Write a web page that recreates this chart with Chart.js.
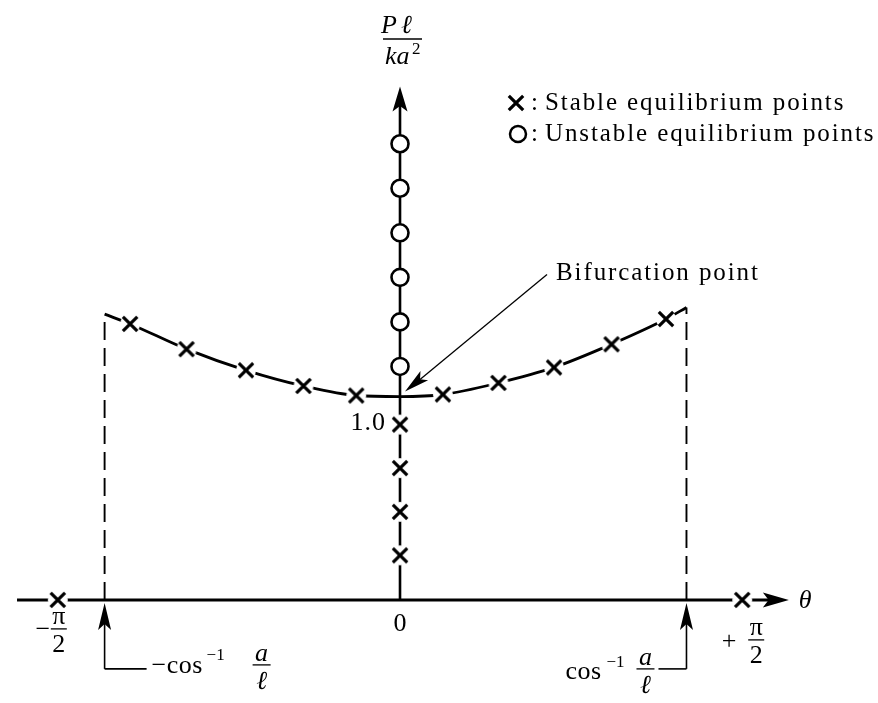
<!DOCTYPE html>
<html>
<head>
<meta charset="utf-8">
<script src="https://cdn.jsdelivr.net/npm/chart.js@4/dist/chart.umd.min.js"></script>
<style>
  html, body { margin: 0; padding: 0; background: #fff; }
  #wrap { width: 878px; height: 703px; position: relative; }
</style>
</head>
<body>
<div id="wrap"><canvas id="c"></canvas></div>
<script>
// θ in radians, load P·ℓ/(k·a²)
const HALF_PI = Math.PI / 2;

// post-buckling branch, from the −cos⁻¹(a/ℓ) corner to the +cos⁻¹(a/ℓ) corner
const curveTheta  = [-1.356, -1.239, -0.980, -0.707, -0.443, -0.201, 0.000, 0.197, 0.452, 0.707, 0.971, 1.221, 1.315];
const curveLoad   = [ 1.405,  1.357,  1.233,  1.129,  1.052,  1.005, 1.000, 1.010, 1.067, 1.143, 1.257, 1.381, 1.438];
const curveMarked = [false, true, true, true, true, true, false, true, true, true, true, true, false];

// trivial branch θ = 0
const unstableLoad = [2.243, 2.024, 1.805, 1.586, 1.367, 1.148];
const stableLoad   = [0.862, 0.648, 0.433, 0.219];

// stable rest positions at zero load
const restTheta = [-HALF_PI, HALF_PI];

// ±cos⁻¹(a/ℓ)
const limitTheta = [-1.356, 1.315];
const limitLoad  = [1.405, 1.438];

const bifurcation = { theta: 0, load: 1.0 };

// axis extents
const thetaAxis = [-1.758, 1.785];
const loadAxisTop = 2.524;

// view window
const xRange = [-1.7852, 2.1432];
const yRange = [-0.4524, 2.8952];

const FONT = '"Liberation Serif", "Times New Roman", serif';

function crossMarker() {
  const s = 26, c = document.createElement('canvas');
  c.width = c.height = s;
  const g = c.getContext('2d');
  g.fillStyle = '#fff';
  g.beginPath(); g.arc(s / 2, s / 2, 10, 0, Math.PI * 2); g.fill();
  g.strokeStyle = '#000'; g.lineWidth = 3.2; g.lineCap = 'butt';
  const h = 7.2;
  g.beginPath();
  g.moveTo(s / 2 - h, s / 2 - h); g.lineTo(s / 2 + h, s / 2 + h);
  g.moveTo(s / 2 + h, s / 2 - h); g.lineTo(s / 2 - h, s / 2 + h);
  g.stroke();
  return c;
}
const CROSS = crossMarker();

function pts(xs, ys) { return xs.map((x, i) => ({ x, y: ys[i] })); }

function text(ctx, str, x, y, opt = {}) {
  ctx.save();
  ctx.font = (opt.italic ? 'italic ' : '') + (opt.size || 25) + 'px ' + FONT;
  ctx.textAlign = opt.align || 'left';
  ctx.textBaseline = 'alphabetic';
  if ('letterSpacing' in ctx) ctx.letterSpacing = (opt.spacing || 0) + 'px';
  ctx.fillStyle = '#000';
  ctx.fillText(str, x, y);
  const w = ctx.measureText(str).width;
  ctx.restore();
  return w;
}

function line(ctx, x1, y1, x2, y2, w) {
  ctx.save();
  ctx.strokeStyle = '#000'; ctx.lineWidth = w; ctx.lineCap = 'butt';
  ctx.beginPath(); ctx.moveTo(x1, y1); ctx.lineTo(x2, y2); ctx.stroke();
  ctx.restore();
}

function arrowHead(ctx, tx, ty, fx, fy, len, half) {
  const a = Math.atan2(ty - fy, tx - fx);
  const bx = tx - len * Math.cos(a), by = ty - len * Math.sin(a);
  const nx = -Math.sin(a) * half, ny = Math.cos(a) * half;
  ctx.save();
  ctx.fillStyle = '#000';
  ctx.beginPath();
  ctx.moveTo(tx, ty);
  ctx.lineTo(bx + nx, by + ny);
  ctx.lineTo(bx + (tx - bx) * 0.22, by + (ty - by) * 0.22);
  ctx.lineTo(bx - nx, by - ny);
  ctx.closePath(); ctx.fill();
  ctx.restore();
}

function fraction(ctx, top, bottom, cx, barY, barHalf, o = {}) {
  text(ctx, top, cx, barY - (o.topGap || 5), { italic: o.topItalic, align: 'center', size: o.size || 25 });
  line(ctx, cx - barHalf, barY, cx + barHalf, barY, 1.3);
  text(ctx, bottom, cx, barY + (o.bottomGap || 22), { italic: o.bottomItalic, align: 'center', size: o.size || 25 });
}

const axesPlugin = {
  id: 'axesPlugin',
  beforeDatasetsDraw(chart) {
    const { ctx, scales: { x, y } } = chart;
    const x0 = x.getPixelForValue(0), y0 = y.getPixelForValue(0);
    // θ axis
    const xl = x.getPixelForValue(thetaAxis[0]), xr = x.getPixelForValue(thetaAxis[1]);
    line(ctx, xl, y0, xr - 10, y0, 3);
    arrowHead(ctx, xr, y0, xl, y0, 26, 7.5);
    // load axis
    const yt = y.getPixelForValue(loadAxisTop);
    line(ctx, x0, y0, x0, yt + 10, 2.6);
    arrowHead(ctx, x0, yt, x0, y0, 25, 7.5);
  },
  afterDatasetsDraw(chart) {
    const { ctx, scales: { x, y } } = chart;
    const x0 = x.getPixelForValue(0), y0 = y.getPixelForValue(0);

    // vertical axis title  Pℓ / ka²
    text(ctx, 'P', x0 - 3, 33, { italic: true, align: 'right', size: 26 });
    text(ctx, 'ℓ', x0 + 1, 33, { italic: true, align: 'left', size: 26 });
    line(ctx, x0 - 17, 39, x0 + 22, 39, 1.3);
    text(ctx, 'ka', x0 - 15, 64, { italic: true, align: 'left', size: 26 });
    text(ctx, '2', x0 + 12, 54, { size: 17 });

    // horizontal axis title
    text(ctx, 'θ', x.getPixelForValue(thetaAxis[1]) + 10, y0 + 8, { italic: true, size: 26 });

    // origin and unit load
    text(ctx, '0', x0, y0 + 31, { align: 'center', size: 26 });
    text(ctx, '1.0', x0 - 14, y.getPixelForValue(bifurcation.load) + 33, { align: 'right', spacing: 1, size: 26 });

    // ±π/2
    const xm = x.getPixelForValue(restTheta[0]);
    text(ctx, '−', xm - 15, y0 + 37, { align: 'center', size: 26 });
    fraction(ctx, 'π', '2', xm + 1, y0 + 29, 8, { bottomGap: 23, size: 26 });
    const xp = x.getPixelForValue(restTheta[1]);
    text(ctx, '+', xp - 13, y0 + 49, { align: 'center', size: 26 });
    fraction(ctx, 'π', '2', xp + 14, y0 + 40, 8, { bottomGap: 23, size: 26 });

    // −cos⁻¹(a/ℓ) bracket
    const xa = x.getPixelForValue(limitTheta[0]);
    line(ctx, xa, y0 + 24, xa, y0 + 69, 1.6);
    line(ctx, xa, y0 + 69, xa + 42, y0 + 69, 1.6);
    arrowHead(ctx, xa, y0 + 3, xa, y0 + 60, 27, 6.5);
    text(ctx, '−cos', xa + 47, y0 + 73, { spacing: 0.5, size: 26 });
    text(ctx, '−1', xa + 102, y0 + 60, { size: 17 });
    fraction(ctx, 'a', 'ℓ', xa + 157, y0 + 65, 9, { topItalic: true, bottomItalic: true, topGap: 4, bottomGap: 24, size: 26 });

    // cos⁻¹(a/ℓ) bracket
    const xb = x.getPixelForValue(limitTheta[1]);
    line(ctx, xb, y0 + 24, xb, y0 + 69, 1.6);
    line(ctx, xb, y0 + 69, xb - 28, y0 + 69, 1.6);
    arrowHead(ctx, xb, y0 + 3, xb, y0 + 60, 27, 6.5);
    text(ctx, 'cos', xb - 121, y0 + 79, { spacing: 0.5, size: 26 });
    text(ctx, '−1', xb - 80, y0 + 67, { size: 17 });
    fraction(ctx, 'a', 'ℓ', xb - 41, y0 + 69, 9, { topItalic: true, bottomItalic: true, topGap: 4, bottomGap: 24, size: 26 });

    // bifurcation point pointer
    const bx = x.getPixelForValue(bifurcation.theta), by = y.getPixelForValue(bifurcation.load);
    const sx = bx + 147, sy = by - 122;
    line(ctx, sx, sy, bx + 20, by - 17, 1.3);
    arrowHead(ctx, bx + 5, by - 5, sx, sy, 25, 6);
    text(ctx, 'Bifurcation point', bx + 156, by - 117, { spacing: 1.9 });

    // key
    ctx.drawImage(CROSS, 516 - CROSS.width / 2, 103 - CROSS.height / 2);
    text(ctx, ':', 531, 110);
    text(ctx, 'Stable equilibrium points', 545, 110, { spacing: 1.9 });
    ctx.save();
    ctx.fillStyle = '#fff'; ctx.strokeStyle = '#000'; ctx.lineWidth = 2.5;
    ctx.beginPath(); ctx.arc(518, 134, 8, 0, Math.PI * 2); ctx.fill(); ctx.stroke();
    ctx.restore();
    text(ctx, ':', 531, 141);
    text(ctx, 'Unstable equilibrium points', 545, 141, { spacing: 1.9 });
  }
};

new Chart(document.getElementById('c'), {
  type: 'scatter',
  data: {
    datasets: [
      {
        label: 'limit −cos⁻¹(a/ℓ)',
        data: [{ x: limitTheta[0], y: 0 }, { x: limitTheta[0], y: limitLoad[0] }],
        showLine: true, borderColor: '#000', borderWidth: 1.9, borderDash: [18, 8],
        pointRadius: 0, order: 5
      },
      {
        label: 'limit cos⁻¹(a/ℓ)',
        data: [{ x: limitTheta[1], y: 0 }, { x: limitTheta[1], y: limitLoad[1] }],
        showLine: true, borderColor: '#000', borderWidth: 1.9, borderDash: [18, 8],
        pointRadius: 0, order: 5
      },
      {
        label: 'post-buckling branch',
        data: pts(curveTheta, curveLoad),
        showLine: true, borderColor: '#000', borderWidth: 2.8,
        cubicInterpolationMode: 'monotone',
        pointStyle: (c) => curveMarked[c.dataIndex] ? CROSS : false,
        pointRadius: (c) => curveMarked[c.dataIndex] ? 9 : 0,
        order: 4
      },
      {
        label: 'Unstable equilibrium points',
        data: unstableLoad.map(v => ({ x: 0, y: v })),
        showLine: false, pointStyle: 'circle', pointRadius: 8.5,
        borderWidth: 2.6, borderColor: '#000', backgroundColor: '#fff',
        pointBackgroundColor: '#fff', pointBorderColor: '#000', order: 2
      },
      {
        label: 'Stable equilibrium points',
        data: stableLoad.map(v => ({ x: 0, y: v })).concat(restTheta.map(t => ({ x: t, y: 0 }))),
        showLine: false, pointStyle: CROSS, pointRadius: 9, order: 1
      }
    ]
  },
  options: {
    responsive: true,
    maintainAspectRatio: false,
    animation: false,
    devicePixelRatio: 1,
    layout: { padding: 0 },
    plugins: { legend: { display: false }, tooltip: { enabled: false } },
    events: [],
    scales: {
      x: { type: 'linear', min: xRange[0], max: xRange[1], display: false },
      y: { type: 'linear', min: yRange[0], max: yRange[1], display: false }
    }
  },
  plugins: [axesPlugin]
});
</script>
</body>
</html>
